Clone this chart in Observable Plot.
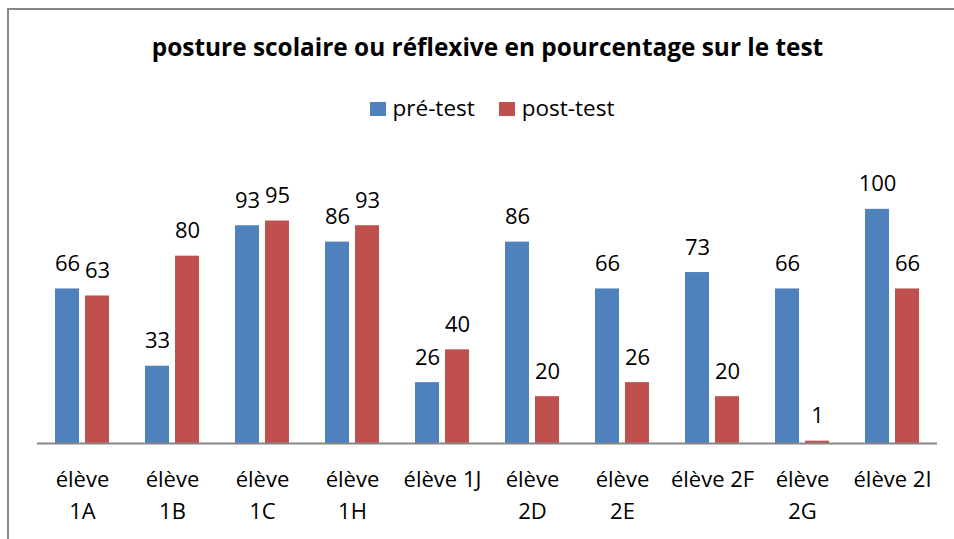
<!DOCTYPE html>
<html><head><meta charset="utf-8">
<script src="https://cdn.jsdelivr.net/npm/d3@7"></script>
<script src="https://cdn.jsdelivr.net/npm/@observablehq/plot@0.6"></script>
<style>
body{margin:0;background:#fff;font-family:"Open Sans",sans-serif;color:#000;width:954px;height:539px;overflow:hidden;position:relative;}
#frame{position:absolute;left:7px;top:8px;width:960px;height:540px;border-left:2px solid #888;border-top:2px solid #888;}
#title{position:absolute;left:0;width:975px;top:31px;text-align:center;font-weight:bold;font-size:24.4px;line-height:32px;white-space:nowrap;}
#legend{position:absolute;left:0;width:984px;top:93px;text-align:center;font-size:22.5px;line-height:30px;white-space:nowrap;}
#legend .sw{display:inline-block;width:16px;height:14px;margin-right:7px;}
#legend .item{margin:0 12px;}
#chart{position:absolute;left:0;top:140px;}
</style>
</head><body>
<div id="frame"></div>
<div id="title"></div>
<div id="legend"></div>
<div id="chart"></div>
<script>
const titleText = "posture scolaire ou réflexive en pourcentage sur le test";
const categories = ["élève 1A","élève 1B","élève 1C","élève 1H","élève 1J","élève 2D","élève 2E","élève 2F","élève 2G","élève 2I"];
const tickLabels = ["élève\n1A","élève\n1B","élève\n1C","élève\n1H","élève 1J","élève\n2D","élève\n2E","élève 2F","élève\n2G","élève 2I"];
const seriesNames = ["pré-test","post-test"];
const preTest = [66,33,93,86,26,86,66,73,66,100];
const postTest = [63,80,95,93,40,20,26,20,1,66];
const seriesColors = ["#4F81BD","#C0504D"];

document.getElementById("title").textContent = titleText;
const leg = document.getElementById("legend");
seriesNames.forEach((s,i)=>{
  const item = document.createElement("span");
  item.className="item";
  const sw = document.createElement("span");
  sw.className="sw"; sw.style.background=seriesColors[i];
  item.appendChild(sw);
  item.appendChild(document.createTextNode(s));
  leg.appendChild(item);
});

const pre = categories.map((c,i)=>({cat:c, value:preTest[i], series:seriesNames[0]}));
const post = categories.map((c,i)=>({cat:c, value:postTest[i], series:seriesNames[1]}));
const labelOf = new Map(categories.map((c,i)=>[c,tickLabels[i]]));

const chart = Plot.plot({
  width: 954,
  height: 399,
  marginLeft: 37,
  marginRight: 17,
  marginTop: 22,
  marginBottom: 96,
  style: {fontSize: "22px", fontFamily: "'Open Sans', sans-serif", color: "#000", background: "transparent"},
  x: {domain: categories, paddingInner: 0.4, paddingOuter: 0.2},
  y: {domain: [0, 120], axis: null},
  color: {domain: seriesNames, range: seriesColors},
  marks: [
    Plot.barY(pre, {x: "cat", y: "value", fill: "series", insetRight: 30}),
    Plot.barY(post, {x: "cat", y: "value", fill: "series", insetLeft: 30}),
    Plot.text(pre, {x: "cat", y: "value", text: d => String(d.value), dx: -15, dy: -18, lineAnchor: "bottom", fill: "#000"}),
    Plot.text(post, {x: "cat", y: "value", text: d => String(d.value), dx: 15, dy: -18, lineAnchor: "bottom", fill: "#000"}),
    Plot.ruleY([0], {stroke: "#868686", strokeWidth: 2}),
    Plot.axisX({tickSize: 0, tickPadding: 21, tickFormat: d => labelOf.get(d), lineHeight: 1.45, fill: "#000", label: null})
  ]
});
document.getElementById("chart").appendChild(chart);
</script>
</body></html>
